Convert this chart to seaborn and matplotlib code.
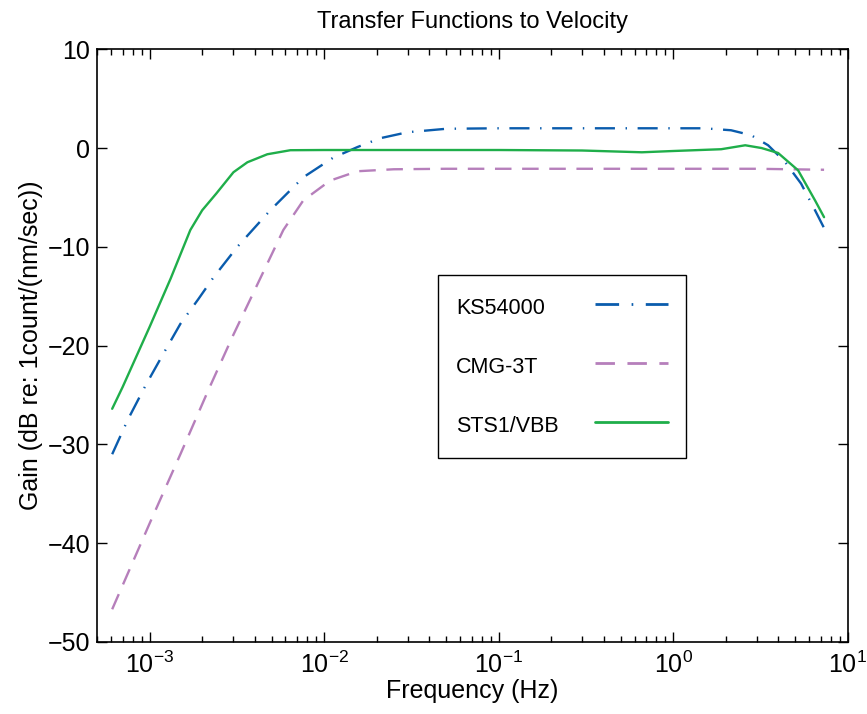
import numpy as np
import pandas as pd
import matplotlib
matplotlib.use("Agg")
import matplotlib.pyplot as plt
import seaborn as sns

# --- data (Hz, dB) ---
ks_freq = [6.1e-4, 7.5e-4, 9.5e-4, 1.2e-3, 1.5e-3, 1.9e-3, 2.32e-3, 3.18e-3, 4.91e-3,
           7.59e-3, 1.12e-2, 1.55e-2, 2.1e-2, 3.0e-2, 5.0e-2, 1.0e-1, 3.0e-1,
           1.0, 1.5, 2.14, 2.79, 3.49, 4.36, 5.39, 6.48, 7.3]
ks_gain = [-31.0, -27.5, -24.0, -20.8, -17.8, -15.3, -13.1, -10.0, -6.3,
           -2.96, -1.0, 0.1, 1.0, 1.6, 1.95, 2.0, 2.0,
           2.0, 2.0, 1.8, 1.3, 0.28, -1.4, -3.6, -6.3, -8.1]

cmg_freq = [6.1e-4, 1.0e-3, 1.5e-3, 2.17e-3, 3.0e-3, 4.3e-3, 5.83e-3, 7.59e-3,
            1.08e-2, 1.55e-2, 2.5e-2, 5.0e-2, 1.0e-1, 1.0, 3.0, 7.3]
cmg_gain = [-46.7, -38.0, -31.0, -24.5, -19.0, -13.2, -8.3, -5.3,
            -3.3, -2.35, -2.15, -2.1, -2.1, -2.1, -2.1, -2.2]

sts_freq = [6.1e-4, 7.0e-4, 1.0e-3, 1.32e-3, 1.71e-3, 2.0e-3, 2.41e-3, 3.02e-3, 3.63e-3,
            4.72e-3, 6.4e-3, 1.0e-2, 1.0e-1, 0.3, 0.66, 1.0, 1.88, 2.58,
            3.2, 3.98, 5.18, 6.48, 7.3]
sts_gain = [-26.4, -24.2, -18.1, -13.2, -8.3, -6.3, -4.6, -2.45, -1.44,
            -0.63, -0.22, -0.2, -0.2, -0.25, -0.43, -0.3, -0.12, 0.28,
            0.0, -0.5, -2.25, -5.3, -7.0]

names = ["KS54000", "CMG-3T", "STS1/VBB"]
colors = {"KS54000": "#0a5cad", "CMG-3T": "#b67fbb", "STS1/VBB": "#1fae4a"}
dashes = {"KS54000": (8.5, 4.5, 0.6, 4.5), "CMG-3T": (7, 4.5), "STS1/VBB": ""}

df = pd.concat([
    pd.DataFrame({"freq": ks_freq, "gain": ks_gain, "sensor": "KS54000"}),
    pd.DataFrame({"freq": cmg_freq, "gain": cmg_gain, "sensor": "CMG-3T"}),
    pd.DataFrame({"freq": sts_freq, "gain": sts_gain, "sensor": "STS1/VBB"}),
], ignore_index=True)

sns.set_style("ticks")
plt.rcParams['font.family'] = ['Liberation Sans', 'DejaVu Sans']
plt.rcParams['mathtext.fontset'] = 'custom'
plt.rcParams['mathtext.rm'] = 'Liberation Sans'
plt.rcParams['mathtext.it'] = 'Liberation Sans'
plt.rcParams['mathtext.default'] = 'regular'
for key in ['text.color', 'axes.labelcolor', 'xtick.color', 'ytick.color', 'axes.edgecolor']:
    plt.rcParams[key] = 'black'

DPI = 100
fig = plt.figure(figsize=(8.67, 7.14), dpi=DPI)
ax = fig.add_axes([0.112, 0.101, 0.866, 0.830])

sns.lineplot(data=df, x="freq", y="gain", hue="sensor", style="sensor",
             hue_order=names, style_order=names, palette=colors, dashes=dashes,
             estimator=None, sort=False, linewidth=1.7, ax=ax)

ax.set_xscale("log")
ax.set_xlim(5e-4, 10)
ax.set_ylim(-50, 10)
ax.set_yticks(np.arange(-50, 11, 10))

ax.set_title("Transfer Functions to Velocity", fontsize=17, pad=15)
ax.set_xlabel("Frequency (Hz)", fontsize=18, labelpad=1)
ax.set_ylabel("Gain (dB re: 1count/(nm/sec))", fontsize=18, labelpad=3)

ax.tick_params(which="both", direction="in", top=True, right=True,
               labelsize=18, width=1)
ax.tick_params(axis="x", pad=7)
ax.tick_params(axis="y", pad=5)
ax.tick_params(which="major", length=7)
ax.tick_params(which="minor", length=4)
for s in ax.spines.values():
    s.set_linewidth(1.2)

LEG_FS = 15.5
HTP = 1.67
sns.move_legend(ax, loc="upper left", bbox_to_anchor=(0.454, 0.619),
                title=None, markerfirst=False, fontsize=LEG_FS, frameon=True,
                fancybox=False, edgecolor="black", framealpha=1,
                handlelength=3.4, handleheight=1.6, handletextpad=HTP,
                labelspacing=1.46, borderpad=0.85, borderaxespad=0)
leg = ax.get_legend()
leg.get_frame().set_linewidth(1.0)
for h in leg.legend_handles:
    h.set_linewidth(2.0)

# left-align legend labels while keeping the line samples in one column
fig.canvas.draw()
renderer = fig.canvas.get_renderer()
widths = [t.get_window_extent(renderer).width * 72 / DPI for t in leg.get_texts()]
wmax = max(widths)
items = [it for col in leg._legend_handle_box.get_children() for it in col.get_children()]
for it, w in zip(items, widths):
    it.sep = HTP * LEG_FS + (wmax - w)
for col in leg._legend_handle_box.get_children():
    col.align = "left"

fig.savefig("out.png", dpi=DPI)
